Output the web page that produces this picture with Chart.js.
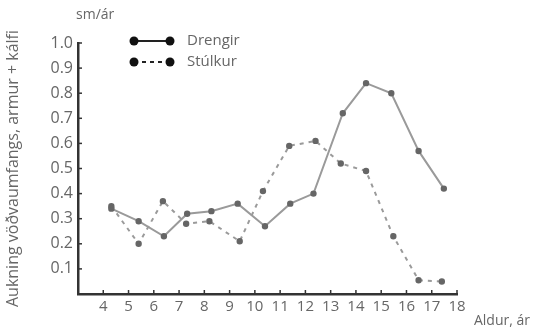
<!DOCTYPE html>
<html lang="is">
<head>
<meta charset="UTF-8">
<title>Aukning vöðvaumfangs</title>
<script src="https://cdn.jsdelivr.net/npm/chart.js"></script>
<style>
  html, body { margin: 0; padding: 0; background: #fff; }
  #wrap { width: 542px; height: 331px; }
</style>
</head>
<body>
<div id="wrap"><canvas id="chart"></canvas></div>
<script>
// values (age in years, cm/year)
const drengirAge = [4.32, 5.4, 6.4, 7.32, 8.28, 9.32, 10.4, 11.4, 12.32, 13.48, 14.4, 15.4, 16.48, 17.48];
const drengirVal = [0.34, 0.29, 0.23, 0.32, 0.33, 0.36, 0.27, 0.36, 0.40, 0.72, 0.84, 0.80, 0.57, 0.42];
const stulkurAge = [4.32, 5.4, 6.36, 7.28, 8.2, 9.4, 10.32, 11.36, 12.4, 13.4, 14.4, 15.48, 16.48, 17.4];
const stulkurVal = [0.35, 0.20, 0.37, 0.28, 0.29, 0.21, 0.41, 0.59, 0.61, 0.52, 0.49, 0.23, 0.055, 0.05];
const xTicks = [4, 5, 6, 7, 8, 9, 10, 11, 12, 13, 14, 15, 16, 17, 18];
const yTicks = [0.1, 0.2, 0.3, 0.4, 0.5, 0.6, 0.7, 0.8, 0.9, 1.0];
const seriesNames = ['Drengir', 'Stúlkur'];

const textColor = '#666';
const lineColor = '#9a9a9a';
const dotColor = '#666';
const fontFamily = '"Open Sans", "Noto Sans", sans-serif';

function toPoints(xs, ys) {
    return xs.map((x, i) => ({ x: x, y: ys[i] }));
}

// inner tick marks, extra labels and the legend
const decorations = {
    id: 'decorations',
    afterDraw(chart) {
        const ctx = chart.ctx;
        const xs = chart.scales.x;
        const ys = chart.scales.y;
        const area = chart.chartArea;
        ctx.save();
        ctx.strokeStyle = '#333';
        ctx.lineWidth = 1.5;
        xTicks.forEach(t => {
            const px = xs.getPixelForValue(t);
            ctx.beginPath();
            ctx.moveTo(px, area.bottom);
            ctx.lineTo(px, area.bottom - 4);
            ctx.stroke();
        });
        yTicks.forEach(t => {
            const py = ys.getPixelForValue(t);
            ctx.beginPath();
            ctx.moveTo(area.left, py);
            ctx.lineTo(area.left + 4, py);
            ctx.stroke();
        });

        ctx.fillStyle = textColor;
        ctx.font = '14px ' + fontFamily;
        ctx.textBaseline = 'middle';
        ctx.textAlign = 'left';
        ctx.fillText('sm/ár', 76, 15);
        ctx.textAlign = 'right';
        ctx.fillText('Aldur, ár', 530, 321);

        // legend
        const items = [
            { name: seriesNames[0], y: 41, dash: [] },
            { name: seriesNames[1], y: 62, dash: [4, 4] }
        ];
        items.forEach(it => {
            ctx.strokeStyle = '#222';
            ctx.lineWidth = 2;
            ctx.setLineDash(it.dash);
            ctx.beginPath();
            ctx.moveTo(134, it.y);
            ctx.lineTo(170, it.y);
            ctx.stroke();
            ctx.setLineDash([]);
            ctx.fillStyle = '#111';
            [134, 170].forEach(px => {
                ctx.beginPath();
                ctx.arc(px, it.y, 4.5, 0, Math.PI * 2);
                ctx.fill();
            });
            ctx.fillStyle = textColor;
            ctx.textAlign = 'left';
            ctx.font = '15px ' + fontFamily;
            ctx.fillText(it.name, 187, it.y);
        });
        ctx.restore();
    }
};

new Chart(document.getElementById('chart'), {
    type: 'scatter',
    data: {
        datasets: [
            {
                label: seriesNames[0],
                data: toPoints(drengirAge, drengirVal),
                showLine: true,
                borderColor: lineColor,
                borderWidth: 2,
                pointRadius: 2.2,
                pointBackgroundColor: dotColor,
                pointBorderColor: dotColor
            },
            {
                label: seriesNames[1],
                data: toPoints(stulkurAge, stulkurVal),
                showLine: true,
                borderColor: lineColor,
                borderWidth: 2,
                borderDash: [4, 5],
                pointRadius: 2.2,
                pointBackgroundColor: dotColor,
                pointBorderColor: dotColor
            }
        ]
    },
    options: {
        responsive: true,
        maintainAspectRatio: false,
        animation: false,
        layout: { padding: { top: 43, right: 85, left: 0, bottom: 0 } },
        plugins: {
            legend: { display: false },
            tooltip: { enabled: false }
        },
        scales: {
            x: {
                type: 'linear',
                min: 3,
                max: 18,
                afterFit: s => { s.height = 37; },
                afterBuildTicks: s => { s.ticks = xTicks.map(v => ({ value: v })); },
                grid: { display: false, drawTicks: false },
                border: { display: true, color: '#333', width: 2.5 },
                ticks: {
                    color: textColor,
                    font: { family: fontFamily, size: 15 },
                    padding: 4,
                    maxRotation: 0,
                    autoSkip: false
                }
            },
            y: {
                min: 0,
                max: 1.0,
                afterFit: s => { s.width = 78; },
                afterBuildTicks: s => { s.ticks = yTicks.map(v => ({ value: v })); },
                grid: { display: false, drawTicks: false },
                border: { display: true, color: '#333', width: 2.5 },
                ticks: {
                    color: textColor,
                    font: { family: fontFamily, size: 16 },
                    padding: 5,
                    callback: v => v.toFixed(1)
                },
                title: {
                    display: true,
                    text: 'Aukning vöðvaumfangs, armur + kálfi',
                    color: textColor,
                    font: { family: fontFamily, size: 16 },
                    padding: { top: 4, bottom: 0 }
                }
            }
        }
    },
    plugins: [decorations]
});
</script>
</body>
</html>
